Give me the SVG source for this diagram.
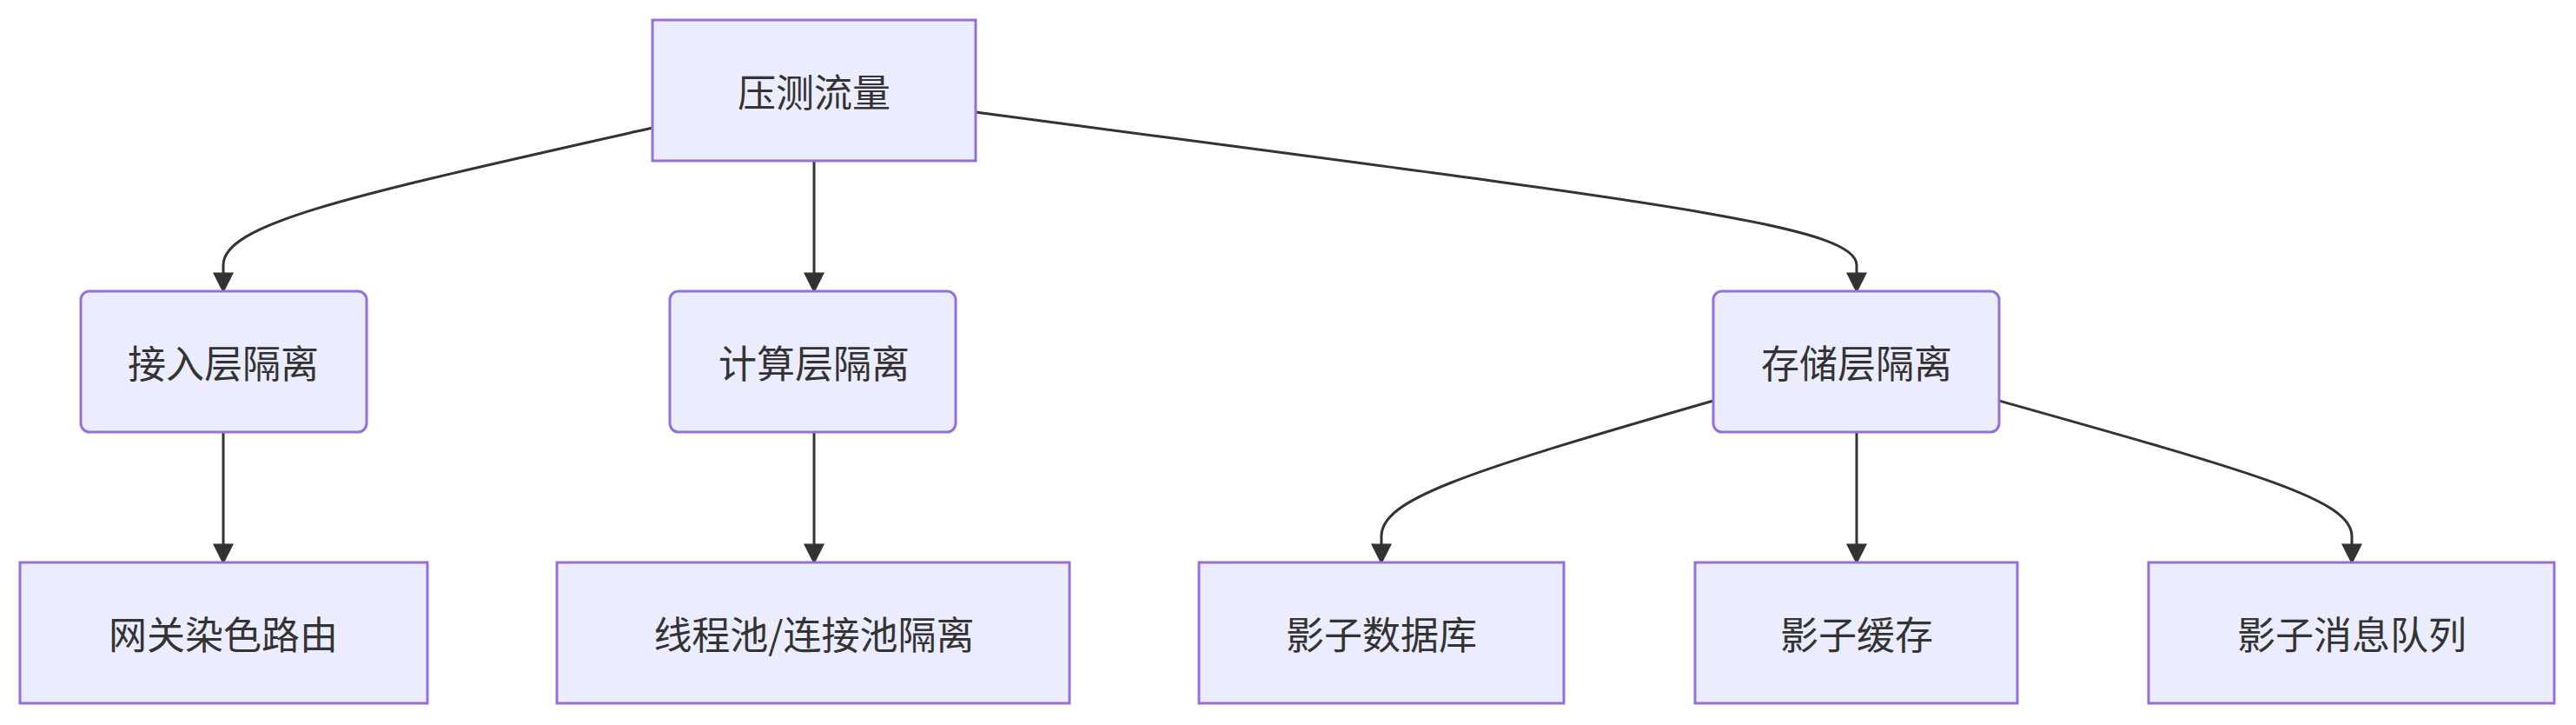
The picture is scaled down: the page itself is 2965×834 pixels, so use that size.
<svg xmlns="http://www.w3.org/2000/svg" width="2965" height="834" viewBox="0 0 2965 834">
<style>
.n{fill:#ECECFF;stroke:#9370DB;stroke-width:3}
.t{font-family:"Noto Sans CJK SC","Liberation Sans",sans-serif;font-size:44px;fill:#333;text-anchor:middle;dominant-baseline:central}
</style>
<defs><marker id="b" viewBox="0 0 10 10" refX="9" refY="5" markerWidth="8" markerHeight="8" orient="auto"><path d="M0,0L10,5L0,10z" fill="#333"/></marker></defs>
<rect width="2965" height="834" fill="#fff"/>
<g id="edges" fill="none" stroke="#333" stroke-width="3" marker-end="url(#b)">
<path d="M751,147 C420,222 257,255 257,305 L257,335"/>
<path d="M937,185 L937,335"/>
<path d="M1123,129 C1900,232 2137,258 2137,305 L2137,335"/>
<path d="M257,497 L257,647"/>
<path d="M937,497 L937,647"/>
<path d="M1972,461 C1680,545 1590,575 1590,617 L1590,647"/>
<path d="M2137,497 L2137,647"/>
<path d="M2301,461 C2600,545 2707,575 2707,617 L2707,647"/>
</g>
<g id="n1"><rect class="n" x="751" y="23" width="372" height="162"/><text class="t" x="937" y="104">压测流量</text></g>
<g id="n2"><rect class="n" x="93" y="335" width="329" height="162" rx="10"/><text class="t" x="257" y="416">接入层隔离</text></g>
<g id="n3"><rect class="n" x="771" y="335" width="329" height="162" rx="10"/><text class="t" x="937" y="416">计算层隔离</text></g>
<g id="n4"><rect class="n" x="1972" y="335" width="329" height="162" rx="10"/><text class="t" x="2137" y="416">存储层隔离</text></g>
<g id="n5"><rect class="n" x="23" y="647" width="469" height="162"/><text class="t" x="257" y="728">网关染色路由</text></g>
<g id="n6"><rect class="n" x="641" y="647" width="590" height="162"/><text class="t" x="937" y="728">线程池/连接池隔离</text></g>
<g id="n7"><rect class="n" x="1380" y="647" width="420" height="162"/><text class="t" x="1590" y="728">影子数据库</text></g>
<g id="n8"><rect class="n" x="1951" y="647" width="371" height="162"/><text class="t" x="2137" y="728">影子缓存</text></g>
<g id="n9"><rect class="n" x="2473" y="647" width="467" height="162"/><text class="t" x="2707" y="728">影子消息队列</text></g>
</svg>
